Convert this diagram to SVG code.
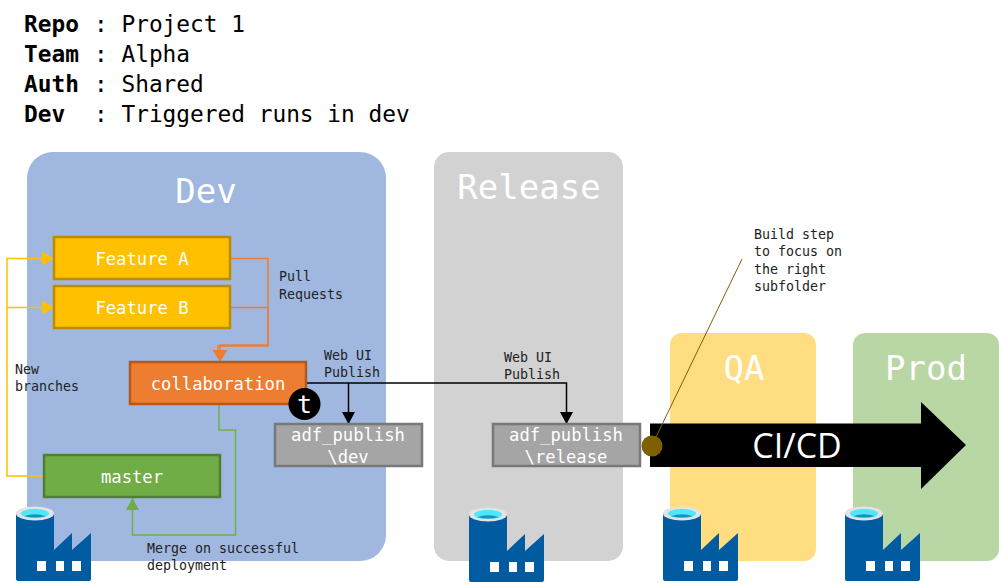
<svg xmlns="http://www.w3.org/2000/svg" xmlns:xlink="http://www.w3.org/1999/xlink" width="999" height="584" viewBox="0 0 999 584">
<style>
text{font-family:"DejaVu Sans Mono","Liberation Mono",monospace}
.h{font-size:22.8px;fill:#000}
.hb{font-size:22.8px;font-weight:bold;fill:#000}
.t{font-size:34px;fill:#fff;text-anchor:middle}
.n{font-size:17.2px;fill:#fff;text-anchor:middle}
.s{font-size:13.3px;fill:#222}
.box{stroke-width:2.5px}
.c{fill:none;stroke-width:1.5px}
</style>
<defs>
<marker id="ay" markerUnits="userSpaceOnUse" markerWidth="14" markerHeight="15" refX="12" refY="7" orient="auto"><path d="M0 0L12 7L0 14Z" fill="#FFC000"/></marker>
<marker id="ao" markerUnits="userSpaceOnUse" markerWidth="15" markerHeight="15" refX="12" refY="7.500" orient="auto"><path d="M0 0L12 7.500L0 15Z" fill="#ED7D31"/></marker>
<marker id="ag" markerUnits="userSpaceOnUse" markerWidth="14" markerHeight="15" refX="12" refY="6.500" orient="auto"><path d="M0 0L12 6.500L0 13Z" fill="#70AD47"/></marker>
<marker id="ak" markerUnits="userSpaceOnUse" markerWidth="14" markerHeight="15" refX="12" refY="6.500" orient="auto"><path d="M0 0L12 6.500L0 13Z" fill="#000"/></marker>
<symbol id="factory" viewBox="0 0 75 75" width="75" height="75">
<path d="M0 7H38V44L56 27V44L75 27V73Q75 75 73 75H2Q0 75 0 73Z" fill="#005BA1"/>
<ellipse cx="19" cy="7.500" rx="19" ry="7" fill="#E3E3E3"/>
<ellipse cx="19" cy="7.500" rx="14" ry="4.500" fill="#50E6FF"/>
<path d="M8 10.200Q19 6.500 30 10.200Q19 13 8 10.200Z" fill="#1B93B8"/>
<path d="M21 55H30V65H21ZM40 55H48V65H40ZM56 55H65V65H56Z" fill="#fff"/>
</symbol>
</defs>

<g id="header">
<text x="24" y="32" class="hb">Repo</text><text x="94" y="32" class="h">: Project 1</text>
<text x="24" y="62" class="hb">Team</text><text x="94" y="62" class="h">: Alpha</text>
<text x="24" y="92" class="hb">Auth</text><text x="94" y="92" class="h">: Shared</text>
<text x="24" y="122" class="hb">Dev</text><text x="94" y="122" class="h">: Triggered runs in dev</text>
</g>

<g id="panel-dev"><rect x="27" y="152" width="359" height="409" rx="26" fill="#A0B8E0"/><text x="206" y="203" class="t">Dev</text></g>
<g id="panel-release"><rect x="434" y="152" width="189" height="409" rx="15" fill="#D2D2D2"/><text x="529" y="199" class="t">Release</text></g>
<g id="panel-qa"><rect x="670" y="333" width="146" height="228" rx="12" fill="#FFDD80"/><text x="744" y="380" class="t">QA</text></g>
<g id="panel-prod"><rect x="853" y="333" width="146" height="228" rx="12" fill="#B9D6A5"/><text x="926" y="380" class="t">Prod</text></g>

<g id="cicd"><path d="M650 423.500H921V402L966 445L921 489V467H650Z" fill="#000"/><text x="797" y="458" font-size="34" fill="#fff" text-anchor="middle" style="font-family:'Open Sans','Noto Sans',sans-serif">CI/CD</text></g>

<g id="connectors">
<path class="c" stroke="#FFC000" d="M44 476H7V258.500H54" marker-end="url(#ay)"/>
<path class="c" stroke="#FFC000" d="M7 307.500H54" marker-end="url(#ay)"/>
<path class="c" stroke="#ED7D31" d="M231 258.500H268V345H220V362" marker-end="url(#ao)"/>
<path class="c" stroke="#ED7D31" d="M231 307.500H268V346H218V358"/>
<path class="c" stroke="#70AD47" d="M219 404V430H235.500V535H132.500V498" marker-end="url(#ag)"/>
<path class="c" stroke="#000" d="M306 383H566.500V424" marker-end="url(#ak)"/>
<path class="c" stroke="#000" d="M348.500 383V424" marker-end="url(#ak)"/>
<path fill="none" stroke="#7F6000" stroke-width="1" d="M656 437L742 259"/>
</g>

<g id="feature-a"><rect class="box" x="54" y="237" width="176" height="42" fill="#FFC000" stroke="#BC8C00"/><text x="142" y="265" class="n">Feature A</text></g>
<g id="feature-b"><rect class="box" x="54" y="286" width="176" height="42" fill="#FFC000" stroke="#BC8C00"/><text x="142" y="314" class="n">Feature B</text></g>
<g id="collaboration"><rect class="box" x="130" y="362" width="176" height="42" fill="#ED7D31" stroke="#AE5A21"/><text x="218" y="390" class="n">collaboration</text></g>
<g id="master"><rect class="box" x="44" y="455" width="176" height="42" fill="#70AD47" stroke="#507E32"/><text x="132" y="483" class="n">master</text></g>
<g id="adf-dev"><rect class="box" x="275" y="424" width="147" height="42" fill="#A5A5A5" stroke="#787878"/><text x="348" y="441" class="n">adf_publish</text><text x="348" y="463" class="n">\dev</text></g>
<g id="adf-release"><rect class="box" x="493" y="424" width="147" height="42" fill="#A5A5A5" stroke="#787878"/><text x="566" y="441" class="n">adf_publish</text><text x="566" y="463" class="n">\release</text></g>
<g id="trigger"><circle cx="304.500" cy="404" r="16" fill="#000"/><text x="304.500" y="413" font-size="25" fill="#fff" text-anchor="middle">t</text></g>
<g id="build-dot"><circle cx="652" cy="446" r="10.500" fill="#7F6000"/></g>

<g id="labels">
<text class="s" x="279" y="281">Pull</text><text class="s" x="279" y="299">Requests</text>
<text class="s" x="324" y="360">Web UI</text><text class="s" x="324" y="377">Publish</text>
<text class="s" x="504" y="362">Web UI</text><text class="s" x="504" y="379">Publish</text>
<text class="s" x="15" y="374">New</text><text class="s" x="15" y="391">branches</text>
<text class="s" x="147" y="553">Merge on successful</text><text class="s" x="147" y="570">deployment</text>
<text class="s" x="754" y="239">Build step</text><text class="s" x="754" y="256">to focus on</text><text class="s" x="754" y="274">the right</text><text class="s" x="754" y="291">subfolder</text>
</g>

<g id="factory-dev"><use href="#factory" x="16" y="506"/></g>
<g id="factory-release"><use href="#factory" x="469" y="507"/></g>
<g id="factory-qa"><use href="#factory" x="663" y="506"/></g>
<g id="factory-prod"><use href="#factory" x="845" y="506"/></g>
</svg>
